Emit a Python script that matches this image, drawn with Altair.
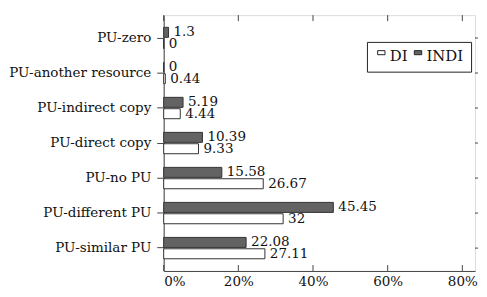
import altair as alt
import pandas as pd

categories = ["PU-zero", "PU-another resource", "PU-indirect copy", "PU-direct copy",
              "PU-no PU", "PU-different PU", "PU-similar PU"]
indi = [1.3, 0, 5.19, 10.39, 15.58, 45.45, 22.08]
di = [0, 0.44, 4.44, 9.33, 26.67, 32, 27.11]
series = ["DI", "INDI"]
x_ticks = [0, 20, 40, 60, 80]

rows = []
for c, a, b in zip(categories, indi, di):
    rows.append({"cat": c, "series": "INDI", "value": a, "label": f"{a:g}"})
    rows.append({"cat": c, "series": "DI", "value": b, "label": f"{b:g}"})
df = pd.DataFrame(rows)
ticks_df = pd.DataFrame({"t": x_ticks})
cats_df = pd.DataFrame({"cat": categories})

W, H = 314, 258
FONT = "DejaVu Serif"
FS = 13.6
INK = "#111111"
LINE = "#444444"

xscale = alt.Scale(domain=[0, 83.4], nice=False, zero=True)
yscale = alt.Scale(domain=categories, paddingInner=0.39, paddingOuter=0.348)
yoff = alt.YOffset("series:N", sort=["INDI", "DI"], scale=alt.Scale(paddingInner=0.12))

color = alt.Color("series:N", scale=alt.Scale(domain=series, range=["#ffffff", "#636363"]),
                  legend=alt.Legend(title=None, orient="none", legendX=205, legendY=27,
                                    direction="horizontal", strokeColor="#222222",
                                    padding=7, labelFont=FONT, labelFontSize=15,
                                    labelColor=INK, columnPadding=3, labelOffset=1,
                                    symbolType="M-1,-1.6H1V-0.5H-1Z", symbolSize=55,
                                    symbolStrokeColor="#222222", symbolStrokeWidth=1))

base = alt.Chart(df)
bars = base.mark_bar(stroke="#333333", strokeWidth=1).encode(
    x=alt.X("value:Q", scale=xscale,
            axis=alt.Axis(values=x_ticks, format=".0f", labelExpr="datum.label + '%'",
                          title=None, grid=False, ticks=False, labelFont=FONT,
                          labelFontSize=FS, labelColor=INK, labelPadding=4,
                          domainColor=LINE)),
    y=alt.Y("cat:N", scale=yscale, sort=categories,
            axis=alt.Axis(title=None, labelFont=FONT, labelFontSize=FS, labelColor=INK,
                          tickSize=7, tickColor=LINE, domainColor=LINE,
                          labelPadding=6, minExtent=157, maxExtent=157)),
    yOffset=yoff,
    color=color,
)
texts = base.mark_text(align="left", baseline="middle", dx=5, font=FONT, fontSize=FS,
                       color=INK).encode(
    x=alt.X("value:Q", scale=xscale),
    y=alt.Y("cat:N", scale=yscale, sort=categories),
    yOffset=yoff,
    text="label:N",
)
tick_bot = alt.Chart(ticks_df).mark_rule(color=LINE).encode(
    x=alt.X("t:Q", scale=xscale), y=alt.value(H), y2=alt.value(H - 6))
tick_top = alt.Chart(ticks_df).mark_rule(color=LINE).encode(
    x=alt.X("t:Q", scale=xscale), y=alt.value(0), y2=alt.value(6))
tick_right = alt.Chart(cats_df).mark_rule(color=LINE).encode(
    y=alt.Y("cat:N", scale=yscale, sort=categories, bandPosition=0.5),
    x=alt.value(W), x2=alt.value(W + 3))

chart = alt.layer(bars, texts, tick_bot, tick_top, tick_right).properties(
    width=W, height=H,
    padding={"left": 0, "top": 5, "right": 0, "bottom": 0},
).configure_view(stroke=LINE, strokeWidth=1).configure(background="white")

chart.save("out.html", embed_options={"renderer": "svg", "actions": False})
